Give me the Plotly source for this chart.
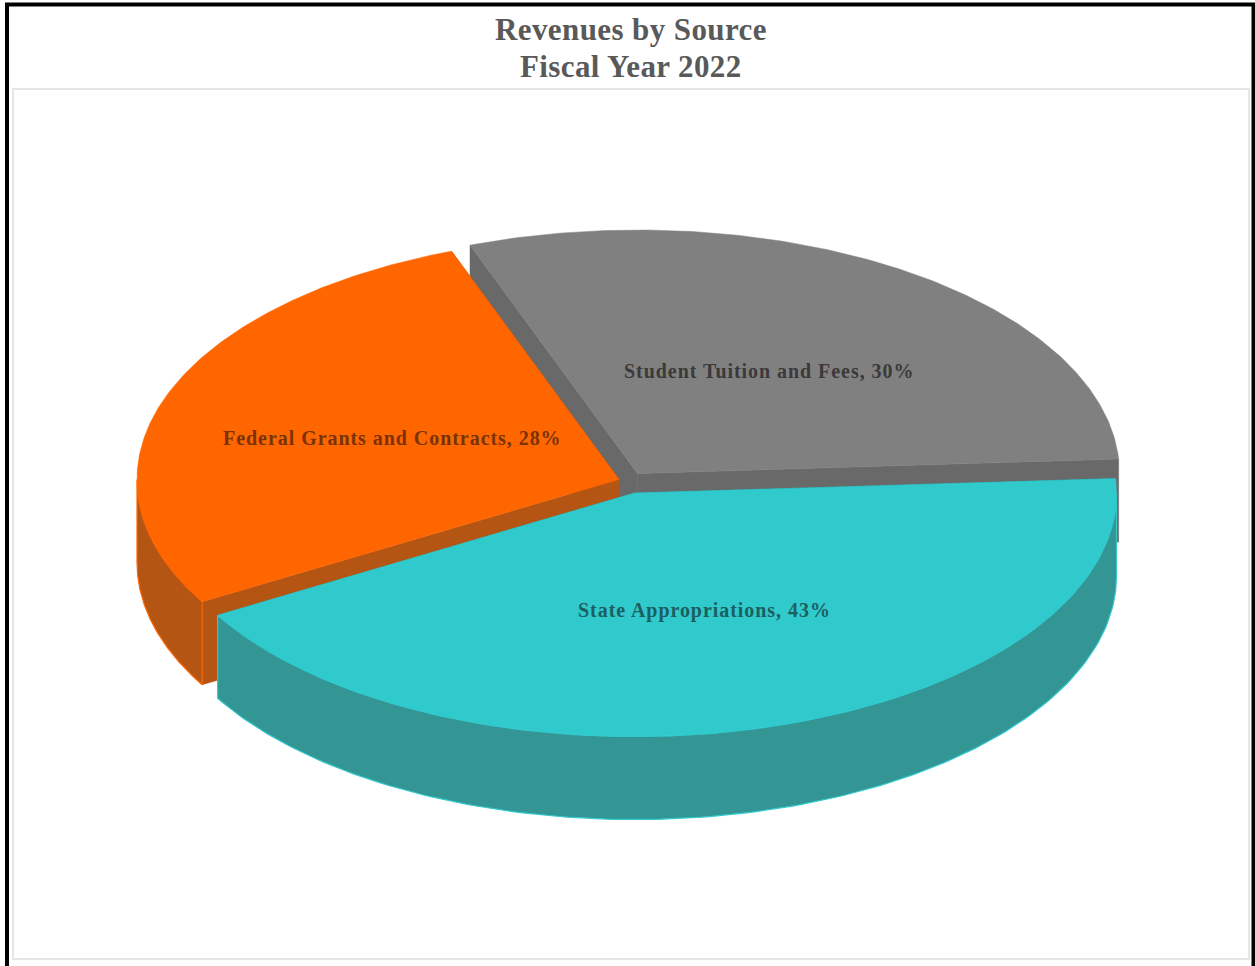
import numpy as np
import plotly.graph_objects as go

# Revenue shares in percent, as labelled on the chart
sources = ["State Appropriations", "Federal Grants and Contracts", "Student Tuition and Fees"]
shares = [43, 28, 30]
title_lines = ["Revenues by Source", "Fiscal Year 2022"]

top_colors = ["#30C9CC", "#FF6600", "#808080"]
wall_colors = ["#339694", "#B55514", "#696969"]
text_colors = ["#1C5F60", "#7A3206", "#3A3A3A"]

# Projection of the tilted pie onto the page, in page pixels
RADIUS_X, RADIUS_Y, DEPTH = 482.0, 243.5, 83.0
START_ANGLE = -3.4
# Exploded centre of each slice and the anchor of its label
centers = [(634.5, 493), (619, 479.5), (637.5, 473.5)]
label_anchors = [(704, 610.5), (392, 437.5), (768.5, 370.5)]


def rim(center, a0, a1, n=160):
    t = np.radians(np.linspace(a0, a1, n))
    return center[0] + RADIUS_X * np.cos(t), center[1] + RADIUS_Y * np.sin(t)


def polygon(x, y, fill, edge, name, width=1.0):
    return go.Scatter(
        x=list(x), y=list(y), mode="lines", fill="toself", fillcolor=fill,
        line=dict(color=edge, width=width), name=name, hoverinfo="name",
        showlegend=False,
    )


def slice_traces(center, a0, a1, top, wall, name):
    traces = []
    cx, cy = center
    # Cut faces running from the centre to both rim ends
    for a in (a1, a0):
        ex, ey = rim(center, a, a, 1)
        traces.append(polygon(
            [cx, ex[0], ex[0], cx, cx], [cy, ey[0], ey[0] + DEPTH, cy + DEPTH, cy],
            wall, wall, name, 0.5))
    # Outer wall: only the arc on the near side of the pie is visible
    for lo, hi in ((a0, a1), (a0 - 360, a1 - 360)):
        lo, hi = max(lo, 0), min(hi, 180)
        if hi > lo:
            x, y = rim(center, lo, hi)
            traces.append(polygon(
                np.r_[x, x[::-1], x[0]], np.r_[y, y[::-1] + DEPTH, y[0]],
                wall, top, name, 1.2))
    x, y = rim(center, a0, a1)
    traces.append(polygon(np.r_[cx, x, cx], np.r_[cy, y, cy], top, top, name, 0.5))
    return traces


sweeps = np.array(shares) / sum(shares) * 360
starts = START_ANGLE + np.r_[0, np.cumsum(sweeps)[:-1]]

fig = go.Figure()
# Far slices are drawn first so the nearer ones overlap them
for i in (2, 1, 0):
    fig.add_traces(slice_traces(centers[i], starts[i], starts[i] + sweeps[i],
                                top_colors[i], wall_colors[i], sources[i]))

for src, share, anchor, color in zip(sources, shares, label_anchors, text_colors):
    fig.add_annotation(x=anchor[0], y=anchor[1], showarrow=False,
                       text=f'<b><span style="letter-spacing:0.95px">{src}, {share}%</span></b>',
                       font=dict(family="Liberation Serif", size=20, color=color))

for line, ypos in zip(title_lines, (29.5, 66.5)):
    fig.add_annotation(x=631, y=ypos, showarrow=False,
                       text=f'<b><span style="letter-spacing:0.4px">{line}</span></b>',
                       font=dict(family="Liberation Serif", size=31, color="#595959"))

# Inner plot border and outer black frame
fig.add_shape(type="rect", x0=13, y0=89, x1=1249, y1=959,
              line=dict(color="#E6E6E6", width=2), layer="below")
fig.add_shape(type="rect", x0=7, y0=4.5, x1=1253.5, y1=970,
              line=dict(color="#000000", width=4), layer="below")

fig.update_layout(
    width=1255, height=966, autosize=False,
    margin=dict(l=0, r=0, t=0, b=0),
    paper_bgcolor="#FFFFFF", plot_bgcolor="#FFFFFF",
    xaxis=dict(range=[0, 1255], visible=False, fixedrange=True),
    yaxis=dict(range=[966, 0], visible=False, fixedrange=True),
)
fig.write_html("out.html", config={"displayModeBar": False})
